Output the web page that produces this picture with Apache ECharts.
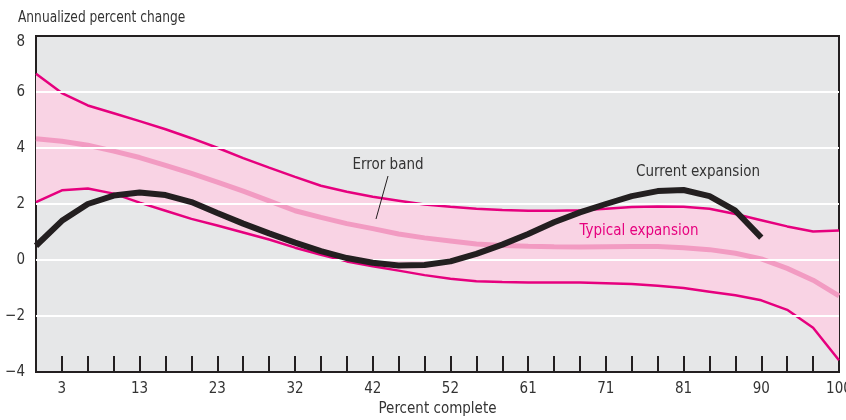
<!DOCTYPE html>
<html><head><meta charset="utf-8">
<script src="https://cdn.jsdelivr.net/npm/echarts@6/dist/echarts.min.js"></script>
<style>html,body{margin:0;padding:0;background:#fff}#c{width:846px;height:420px}</style>
</head><body><div id="c"></div>
<script>
var categories = ["0","3","6","10","13","16","19","23","26","29","32","35","39","42","45","48","52","55","58","61","65","68","71","74","77","81","84","87","90","94","97","100"];
var upperBand = [6.65,5.96,5.52,5.24,4.96,4.67,4.35,4.01,3.64,3.3,2.97,2.65,2.44,2.26,2.12,1.98,1.9,1.83,1.79,1.76,1.76,1.78,1.83,1.89,1.91,1.9,1.83,1.64,1.42,1.2,1.02,1.05];
var lowerBand = [2.07,2.49,2.55,2.37,2.05,1.76,1.47,1.23,0.98,0.73,0.44,0.19,-0.05,-0.22,-0.38,-0.54,-0.67,-0.76,-0.79,-0.8,-0.8,-0.8,-0.83,-0.86,-0.92,-1.0,-1.13,-1.26,-1.44,-1.78,-2.42,-3.58];
var typical = [4.33,4.24,4.1,3.89,3.66,3.38,3.09,2.78,2.46,2.11,1.76,1.52,1.3,1.12,0.93,0.79,0.68,0.57,0.52,0.49,0.47,0.46,0.47,0.48,0.48,0.44,0.37,0.24,0.04,-0.3,-0.72,-1.28];
var current = [0.51,1.4,2.0,2.3,2.41,2.32,2.07,1.68,1.3,0.95,0.62,0.32,0.07,-0.1,-0.2,-0.18,-0.05,0.22,0.55,0.93,1.35,1.7,2.0,2.28,2.46,2.5,2.28,1.76,0.8];
var gridValues = [6,4,2,0,-2];

var FONT = '"Liberation Sans Narrow","DejaVu Sans Condensed","Roboto",sans-serif';
var bandWidth = upperBand.map(function(v,i){return +(v-lowerBand[i]).toFixed(2);});

var chart = echarts.init(document.getElementById('c'), null, {renderer:'canvas'});
chart.setOption({
  animation:false,
  grid:{left:36,right:7,top:36,bottom:48,outerBoundsMode:'none',containLabel:false,show:true,backgroundColor:'#e6e7e8',borderColor:'#231f20',borderWidth:2},
  xAxis:{
    type:'category',data:categories,boundaryGap:false,
    name:'Percent complete',nameLocation:'middle',nameGap:30,
    nameTextStyle:{fontFamily:FONT,fontSize:15,color:'#333'},
    axisLine:{onZero:false,lineStyle:{color:'#231f20',width:2}},
    axisTick:{inside:true,length:16,interval:0,lineStyle:{color:'#231f20',width:2}},
    axisLabel:{interval:function(i){return i%3===1;},margin:10,fontFamily:FONT,fontSize:15,color:'#333',showMaxLabel:true},
    splitLine:{show:false}
  },
  yAxis:{
    type:'value',min:-4,max:8,interval:2,
    axisLine:{show:true,onZero:false,lineStyle:{color:'#231f20',width:2}},
    axisTick:{show:true,inside:true,length:14,lineStyle:{color:'#231f20',width:2}},
    axisLabel:{margin:11,fontFamily:FONT,fontSize:15,color:'#333',
      formatter:function(v){var s=String(v).replace('-','\u2212');return v===8?'{t|'+s+'}':s;},
      rich:{t:{fontFamily:FONT,fontSize:15,color:'#333',padding:[12,0,0,0]}}},
    splitLine:{show:false}
  },
  series:[
    {type:'line',data:lowerBand,stack:'band',stackStrategy:'all',symbol:'none',lineStyle:{opacity:0},z:1,silent:true},
    {type:'line',data:bandWidth,stack:'band',stackStrategy:'all',symbol:'none',lineStyle:{opacity:0},areaStyle:{color:'#f9d3e4',opacity:1},z:1,silent:true},
    {type:'line',data:[],z:2,silent:true,
      markLine:{silent:true,symbol:'none',label:{show:false},lineStyle:{color:'#ffffff',width:2,type:'solid'},
        data:gridValues.map(function(v){return {yAxis:v};})}},
    {type:'line',data:typical,symbol:'none',lineStyle:{color:'#f29bc2',width:5},z:3},
    {type:'line',data:upperBand,symbol:'none',lineStyle:{color:'#e6007e',width:2.5},z:4},
    {type:'line',data:lowerBand,symbol:'none',lineStyle:{color:'#e6007e',width:2.5},z:4},
    {type:'line',data:current,symbol:'none',lineStyle:{color:'#231f20',width:6,cap:'butt'},z:5}
  ],
  graphic:[
    {type:'text',x:18,y:10,scaleX:0.85,style:{text:'Annualized percent change',fontFamily:FONT,fontSize:16,fill:'#333'}},
    {type:'text',x:388,y:165,style:{text:'Error band',fontFamily:FONT,fontSize:15,fill:'#333',align:'center',verticalAlign:'middle'},z:10},
    {type:'line',shape:{x1:388,y1:176,x2:376,y2:219},style:{stroke:'#231f20',lineWidth:1},z:10},
    {type:'text',x:698,y:172,style:{text:'Current expansion',fontFamily:FONT,fontSize:15,fill:'#333',align:'center',verticalAlign:'middle'},z:10},
    {type:'text',x:639,y:231,style:{text:'Typical expansion',fontFamily:FONT,fontSize:15,fill:'#e6007e',align:'center',verticalAlign:'middle'},z:10}
  ]
});
</script></body></html>
